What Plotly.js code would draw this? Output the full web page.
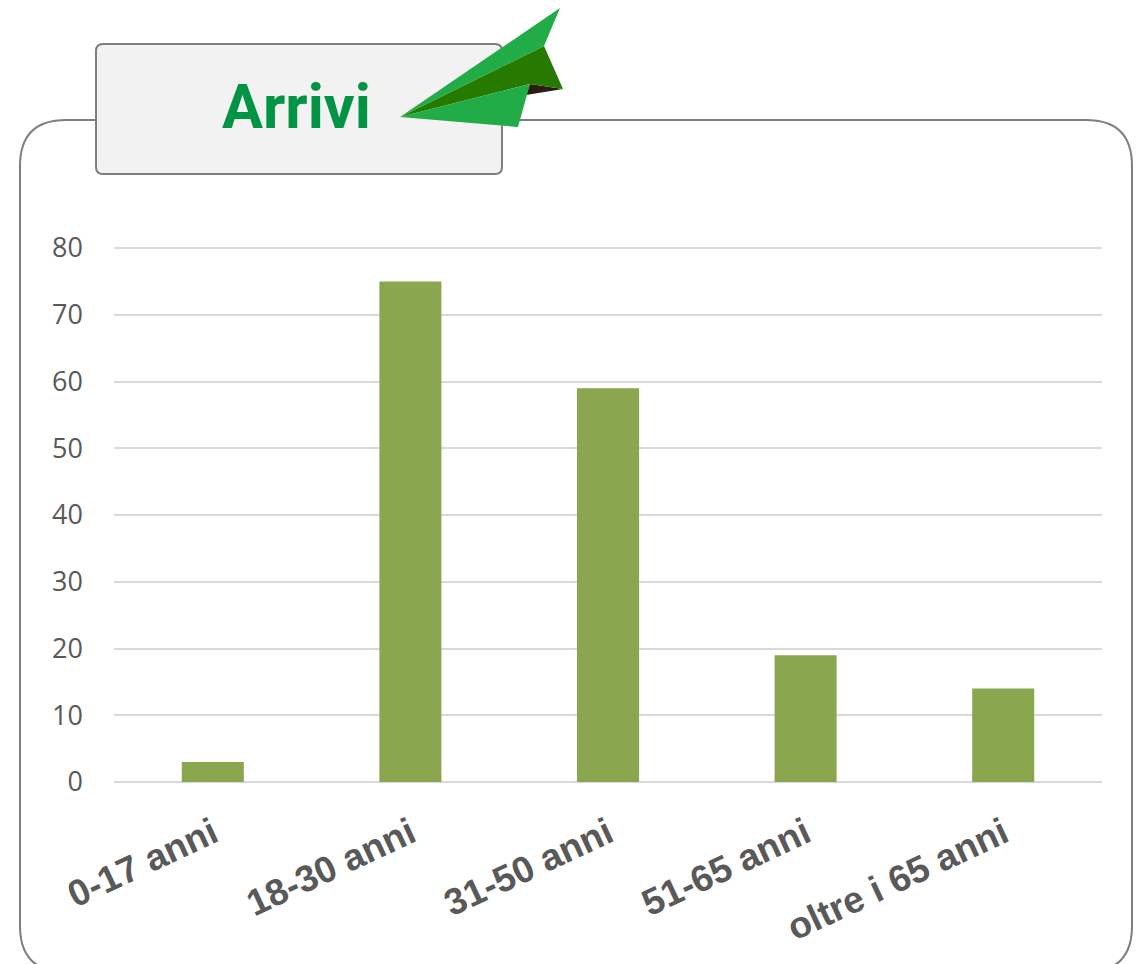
<!DOCTYPE html>
<html>
<head>
<meta charset="utf-8">
<script src="https://cdn.plot.ly/plotly-3.0.1.min.js"></script>
<style>html,body{margin:0;padding:0;background:#fff;overflow:hidden}#chart{width:1142px;height:964px}</style>
</head>
<body>
<div id="chart"></div>
<script>
const categories = ["0-17 anni", "18-30 anni", "31-50 anni", "51-65 anni", "oltre i 65 anni"];
const arrivals = [3, 75, 59, 19, 14];
const yTicks = [0, 10, 20, 30, 40, 50, 60, 70, 80];
const chartTitle = "Arrivi";

const W = 1142, H = 964, L = 114, R = 40, T = 228, B = 182;
const px = x => (x - L) / (W - L - R);
const py = y => 1 - (y - T) / (H - T - B);
const p = (cmd, x, y) => `${cmd}${px(x)},${py(y)}`;

function roundedRect(x0, y0, x1, y1, r) {
  return [
    p("M", x0 + r, y0), p("L", x1 - r, y0),
    `Q${px(x1)},${py(y0)} ${px(x1)},${py(y0 + r)}`,
    p("L", x1, y1 - r),
    `Q${px(x1)},${py(y1)} ${px(x1 - r)},${py(y1)}`,
    p("L", x0 + r, y1),
    `Q${px(x0)},${py(y1)} ${px(x0)},${py(y1 - r)}`,
    p("L", x0, y0 + r),
    `Q${px(x0)},${py(y0)} ${px(x0 + r)},${py(y0)}`, "Z"
  ].join(" ");
}
function poly(points) {
  return points.map((q, i) => p(i ? "L" : "M", q[0], q[1])).join(" ") + " Z";
}
const shape = (path, fillcolor, line, layer) => ({
  type: "path", xref: "paper", yref: "paper", path, fillcolor, layer: layer || "above",
  line: line || { width: 0 }
});
const border = { color: "#7f7f7f", width: 2 };

const shapes = [
  shape(roundedRect(20, 120, 1132, 972, 46), "rgba(0,0,0,0)", border, "below"),
  shape(roundedRect(96, 44, 502, 174, 7), "#f2f2f2", border),
  shape(poly([[530, 84], [563, 89], [526, 95]]), "#2b1d12"),
  shape(poly([[400, 117], [544, 46], [563, 89], [530, 84]]), "#267a00"),
  shape(poly([[400, 117], [560, 8], [544, 46]]), "#22ac47"),
  shape(poly([[400, 117], [530, 84], [518, 127]]), "#22ac47")
];

const data = [{
  type: "bar",
  x: categories,
  y: arrivals,
  marker: { color: "#8aa64e" },
  hoverinfo: "x+y"
}];

const layout = {
  width: W, height: H,
  margin: { l: L, r: R, t: T, b: B, pad: 0 },
  paper_bgcolor: "#ffffff",
  plot_bgcolor: "#ffffff",
  showlegend: false,
  bargap: 0.686,
  xaxis: {
    type: "category",
    showgrid: false,
    zeroline: false,
    showline: false,
    ticks: "",
    tickangle: -25,
    automargin: false,
    ticklabelstandoff: 22,
    tickfont: { family: "Liberation Sans", size: 37, color: "#595959", weight: "bold" }
  },
  yaxis: {
    range: [0, 83],
    tickmode: "array",
    tickvals: yTicks,
    ticktext: yTicks.map(String),
    showgrid: true,
    gridcolor: "#d9d9d9",
    gridwidth: 2,
    zeroline: true,
    zerolinecolor: "#d9d9d9",
    zerolinewidth: 2,
    showline: false,
    ticks: "",
    automargin: false,
    ticklabelstandoff: 30,
    tickfont: { family: "Open Sans", size: 27, color: "#595959" }
  },
  shapes,
  annotations: [{
    xref: "paper", yref: "paper",
    x: px(296), y: py(107),
    xanchor: "center", yanchor: "middle",
    showarrow: false,
    text: "<b>" + chartTitle + "</b>",
    font: { family: "Roboto", size: 61, color: "#009444" }
  }]
};

Plotly.newPlot("chart", data, layout, { displayModeBar: false, responsive: false });
</script>
</body>
</html>
